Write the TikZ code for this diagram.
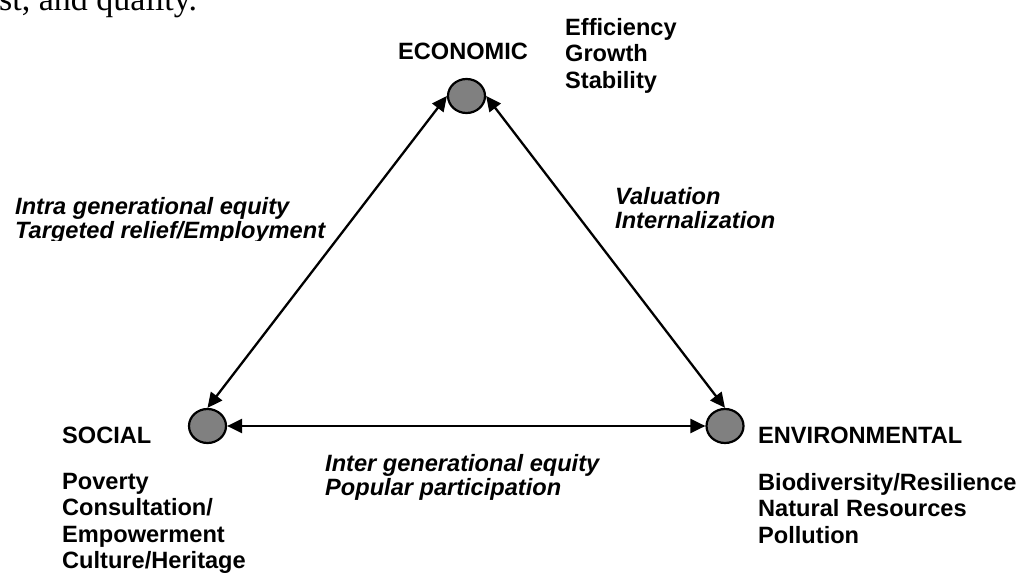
\documentclass[tikz,border=0pt]{standalone}
\usepackage{fontspec}
\setmainfont{Liberation Sans}
\newfontfamily\bodyserif{Liberation Serif}
\usetikzlibrary{shapes.geometric,arrows.meta}
\definecolor{dotgray}{HTML}{808080}
\tikzset{
  dot/.style={ellipse, draw=black, line width=2.2pt, fill=dotgray, inner sep=0pt, minimum width=37pt, minimum height=34pt},
  biarrow/.style={line width=2.3pt, {Triangle[length=15pt,width=14pt]}-{Triangle[length=15pt,width=14pt]}},
  head/.style={inner sep=0pt, anchor=base west, font=\fontsize{23.6}{26}\selectfont\bfseries},
  lst/.style={inner sep=0pt, anchor=north west, align=left, font=\fontsize{23.6}{26.5}\selectfont\bfseries},
  ilst/.style={inner sep=0pt, anchor=north west, align=left, font=\fontsize{23.6}{24}\selectfont\bfseries\itshape}
}
\begin{document}
\begin{tikzpicture}[x=1pt,y=-1pt]
\useasboundingbox (0,0) rectangle (1023,577);
\begin{scope}
\clip (0,0) rectangle (1023,577);
\node[inner sep=0pt, anchor=base west, font=\bodyserif\fontsize{34}{36}\selectfont] (topline) at (-1,10.5) {st, and quality.};
\end{scope}
% circles
\node[dot] (econ) at (466.5,96) {};
\node[dot] (soc) at (207.5,426) {};
\node[dot] (env) at (725,426) {};
% connectors
\draw[biarrow] (soc.north) -- (econ.west);
\draw[biarrow] (env.north) -- (econ.east);
\draw[biarrow] (soc.east) -- (env.west);
% headings
\node[head] (econlbl) at (398,60) {ECONOMIC};
\node[head] (soclbl) at (62,443) {SOCIAL};
\node[head] (envlbl) at (758,443) {ENVIRONMENTAL};
% lists
\node[lst] (econlist) at (565,18) {Efficiency\\Growth\\Stability};
\node[lst] (soclist) at (62,473) {Poverty\\Consultation/\\Empowerment\\Culture/Heritage};
\node[lst] (envlist) at (758,473) {Biodiversity/Resilience\\Natural Resources\\Pollution};
% link labels
\begin{scope}
\clip (0,150) rectangle (400,240.5);
\node[ilst] (intra) at (15,197) {Intra generational equity\\Targeted relief/Employment};
\end{scope}
\node[ilst] (valu) at (615,187) {Valuation\\Internalization};
\node[ilst] (inter) at (325,454) {Inter generational equity\\Popular participation};
\end{tikzpicture}
\end{document}
